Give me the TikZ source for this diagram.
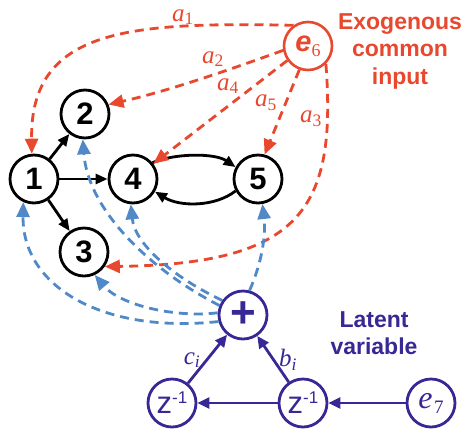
\documentclass[tikz,border=0pt]{standalone}
\usepackage{fontspec}
\setmainfont{Liberation Serif}
\setsansfont{Liberation Sans}
\usetikzlibrary{arrows.meta}
\definecolor{myred}{RGB}{232,72,46}
\definecolor{myblue}{RGB}{80,136,200}
\definecolor{mypurple}{RGB}{55,40,150}
\begin{document}
\begin{tikzpicture}[x=1pt,y=-1pt,
  varnode/.style={circle,draw=black,line width=2.8pt,minimum size=48pt,inner sep=0pt,
    font=\sffamily\bfseries\fontsize{31}{31}\selectfont},
  rednode/.style={circle,draw=myred,line width=2.6pt,minimum size=48pt,inner sep=0pt,text=myred},
  purnode/.style={circle,draw=mypurple,line width=2.8pt,minimum size=48pt,inner sep=0pt,text=mypurple},
  blkarrow/.style={line width=2.8pt,-{Triangle[length=12pt,width=10pt]}},
  redarrow/.style={myred,line width=2.8pt,dash pattern=on 9pt off 6pt,-{Triangle[length=15pt,width=13pt]}},
  bluearrow/.style={myblue,line width=2.8pt,dash pattern=on 9pt off 6pt,-{Triangle[length=15pt,width=13pt]}},
  purarrow/.style={mypurple,line width=2.8pt,-{Triangle[length=12pt,width=11pt]}},
  redlab/.style={text=myred,font=\fontsize{25}{25}\selectfont,inner sep=0pt},
  purlab/.style={text=mypurple,font=\fontsize{25}{25}\selectfont},
  bigtext/.style={align=center,font=\sffamily\bfseries\fontsize{23}{27.5}\selectfont}
]
\path[use as bounding box] (0,0) rectangle (462,429);

% main nodes
\node[varnode] (n1) at (34,179) {1};
\node[varnode] (n2) at (85,114) {2};
\node[varnode] (n3) at (84,252) {3};
\node[varnode] (n4) at (133,179) {4};
\node[varnode] (n5) at (258,179) {5};

\node[rednode] (e6) at (308,46) {{\sffamily\bfseries\itshape\fontsize{29}{29}\selectfont e}\raisebox{-5pt}{\fontsize{18}{18}\selectfont 6}};

\node[purnode] (plus) at (243,315) {\sffamily\bfseries\fontsize{44}{44}\selectfont +};
\node[purnode] (z1) at (172,403) {\sffamily\fontsize{31}{31}\selectfont z\raisebox{10pt}{\fontsize{17}{17}\selectfont -1}};
\node[purnode] (z2) at (303,403) {\sffamily\fontsize{31}{31}\selectfont z\raisebox{10pt}{\fontsize{17}{17}\selectfont -1}};
\node[purnode] (e7) at (431,403) {{\itshape\fontsize{32}{32}\selectfont e}\,\raisebox{-5pt}{\fontsize{19}{19}\selectfont 7}};

% texts
\node[bigtext,text=myred] (exo) at (400,51) {Exogenous\\common\\input};
\node[bigtext,text=mypurple] (lat) at (374,333) {Latent\\variable};

% black arrows
\draw[blkarrow] (n1) -- (n2);
\draw[blkarrow] (n1) -- (n4);
\draw[blkarrow] (n1) -- (n3);
\draw[blkarrow] (n4.40) .. controls (175,153) and (215,153) .. (n5.152);
\draw[blkarrow] (n5.208) .. controls (215,207) and (180,207) .. (n4.-30);

% red dashed arrows
\draw[redarrow] (e6.125) .. controls (130,22) and (30,28) .. (n1.95);
\draw[redarrow] (e6.190) .. controls (226,71) and (168,91) .. (n2.22);
\draw[redarrow] (e6.215) -- (n4.37);
\draw[redarrow] (e6.250) -- (n5.75);
\draw[redarrow] (e6.-45) .. controls (337,210) and (300,264) .. (n3.-35);

\node[redlab,anchor=base] (la1) at (183,21) {\textit{a}\textsubscript{1}};
\node[redlab] (la2) at (213,59) {\textit{a}\textsubscript{2}};
\node[redlab] (la4) at (228,86) {\textit{a}\textsubscript{4}};
\node[redlab] (la5) at (266,103) {\textit{a}\textsubscript{5}};
\node[redlab] (la3) at (311,119) {\textit{a}\textsubscript{3}};

% blue dashed arrows
\draw[bluearrow] (plus.75) .. controls (262,262) and (266,235) .. (n5.-80);
\draw[bluearrow] (plus.145) .. controls (175,278) and (135,245) .. (n4.-95);
\draw[bluearrow] (plus.158) .. controls (150,270) and (88,210) .. (n2.-95);
\draw[bluearrow] (plus.175) .. controls (175,318) and (120,305) .. (n3.-65);
\draw[bluearrow] (plus.195) .. controls (100,334) and (22,285) .. (n1.-115);

% purple arrows
\draw[purarrow] (e7) -- (z2);
\draw[purarrow] (z2) -- (z1);
\draw[purarrow] (z1) -- (plus);
\draw[purarrow] (z2) -- (plus);
\node[purlab] (lc) at (192,360) {\textit{c}\textsubscript{\textit{i}}};
\node[purlab] (lb) at (288,360) {\textit{b}\textsubscript{\textit{i}}};
\end{tikzpicture}
\end{document}
